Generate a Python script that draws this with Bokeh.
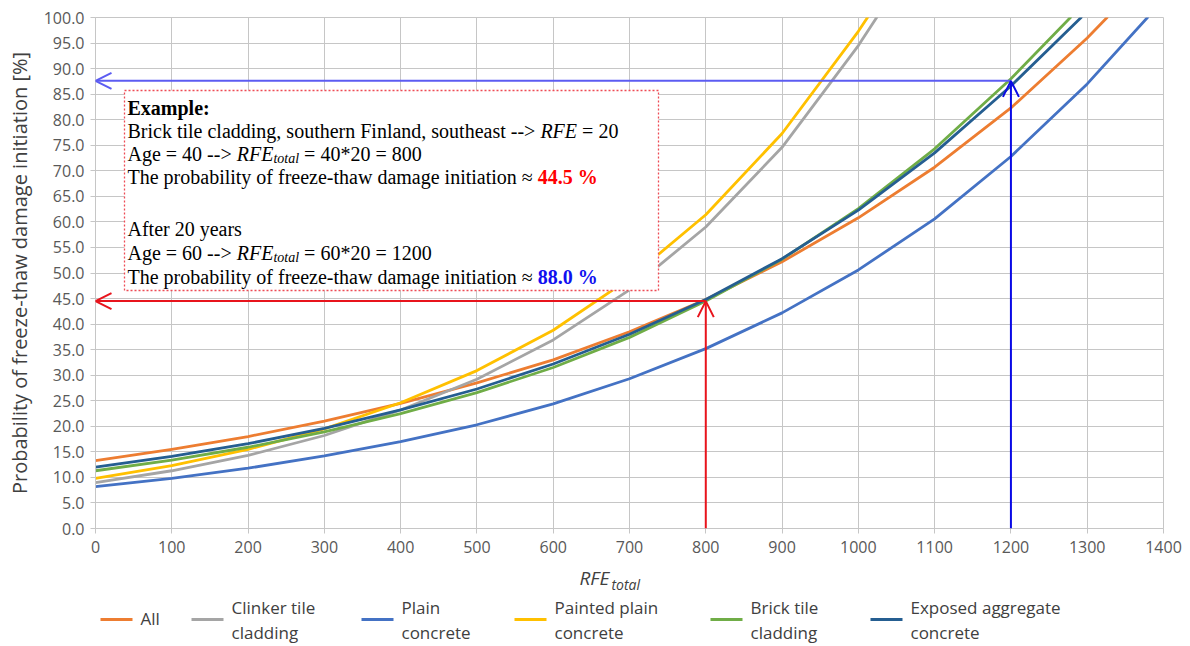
from bokeh.plotting import figure
from bokeh.models import (Range1d, Label, BoxAnnotation, Arrow, OpenHead,
                          NumeralTickFormatter, FixedTicker)
from bokeh.layouts import column
from bokeh.embed import file_html
from bokeh.resources import INLINE

# ---------------- data ----------------
all_x = [0, 100, 200, 300, 400, 500, 600, 700, 800, 900, 1000, 1100, 1200, 1300, 1326]
all_y = [13.3, 15.5, 18.0, 21.0, 24.5, 28.5, 33.0, 38.5, 44.8, 52.2, 60.8, 70.7, 82.3, 96.0, 100.0]

clinker_x = [0, 100, 200, 300, 400, 500, 600, 700, 800, 900, 1000, 1024]
clinker_y = [9.0, 11.3, 14.3, 18.2, 23.2, 29.2, 36.9, 46.7, 59.0, 74.6, 94.5, 100.0]

plain_x = [0, 100, 200, 300, 400, 500, 600, 700, 800, 900, 1000, 1100, 1200, 1300, 1379]
plain_y = [8.2, 9.8, 11.8, 14.2, 17.0, 20.3, 24.4, 29.3, 35.2, 42.2, 50.6, 60.6, 72.8, 87.0, 100.0]

painted_x = [0, 100, 200, 300, 400, 500, 600, 700, 800, 900, 1000, 1012]
painted_y = [9.8, 12.3, 15.5, 19.5, 24.6, 30.9, 38.8, 48.9, 61.4, 77.3, 97.3, 100.0]

brick_x = [0, 100, 200, 300, 400, 500, 600, 700, 800, 900, 1000, 1100, 1200, 1278]
brick_y = [11.3, 13.4, 15.9, 18.9, 22.5, 26.6, 31.5, 37.4, 44.5, 52.7, 62.6, 74.3, 88.0, 100.0]

exposed_x = [0, 100, 200, 300, 400, 500, 600, 700, 800, 900, 1000, 1100, 1200, 1292]
exposed_y = [12.0, 14.1, 16.6, 19.6, 23.2, 27.3, 32.2, 38.0, 44.8, 52.8, 62.3, 73.5, 86.6, 100.0]

series_names = ["All", "Clinker tile cladding", "Plain concrete",
                "Painted plain concrete", "Brick tile cladding", "Exposed aggregate concrete"]
legend_lines = [["All"], ["Clinker tile", "cladding"], ["Plain", "concrete"],
                ["Painted plain", "concrete"], ["Brick tile", "cladding"],
                ["Exposed aggregate", "concrete"]]
series_colors = ["#ED7D31", "#A5A5A5", "#4472C4", "#FFC000", "#70AD47", "#255E91"]
series_xy = [(all_x, all_y), (clinker_x, clinker_y), (plain_x, plain_y),
             (painted_x, painted_y), (brick_x, brick_y), (exposed_x, exposed_y)]

x_ticks = list(range(0, 1401, 100))
y_ticks = [i * 5 for i in range(21)]

# example values
rfe_example_1 = 800
prob_example_1 = 44.5
rfe_example_2 = 1200
prob_example_2 = 87.6

# ---------------- layout helpers (pixel positions on the page) ----------------
W = 1190
MAIN_H = 562
PX_LEFT, PX_RIGHT, PX_TOP, PX_BOTTOM = 95.0, 1163.0, 17.0, 528.0


def dx(px):
    return (px - PX_LEFT) / (PX_RIGHT - PX_LEFT) * 1400.0


def dy(py):
    return (PX_BOTTOM - py) / (PX_BOTTOM - PX_TOP) * 100.0


GRID = "#C6C6C6"
TICK_TXT = "#595959"
SANS = "Open Sans"
SERIF = "Liberation Serif"

p = figure(width=W, height=MAIN_H, x_range=Range1d(0, 1400), y_range=Range1d(0, 100),
           output_backend="svg", toolbar_location=None,
           min_border_left=int(PX_LEFT), min_border_right=int(W - PX_RIGHT),
           min_border_top=int(PX_TOP), min_border_bottom=int(MAIN_H - PX_BOTTOM))
p.background_fill_color = "white"
p.border_fill_color = "white"
p.outline_line_color = GRID

p.xaxis.ticker = FixedTicker(ticks=x_ticks)
p.yaxis.ticker = FixedTicker(ticks=y_ticks)
p.xgrid.ticker = FixedTicker(ticks=x_ticks)
p.ygrid.ticker = FixedTicker(ticks=y_ticks)
p.grid.grid_line_color = GRID
p.grid.grid_line_width = 1
p.yaxis.formatter = NumeralTickFormatter(format="0.0")

for ax in (p.xaxis[0], p.yaxis[0]):
    ax.axis_line_color = GRID
    ax.major_tick_line_color = GRID
    ax.minor_tick_line_color = None
    ax.major_tick_in = 0
    ax.major_tick_out = 5
    ax.major_label_text_font = SANS
    ax.major_label_text_font_size = "16px"
    ax.major_label_text_color = TICK_TXT

p.xaxis.major_label_standoff = 7
p.yaxis.major_label_standoff = 6
p.yaxis.axis_label = "Probability of freeze-thaw damage initiation [%]"
p.yaxis.axis_label_text_font = SANS
p.yaxis.axis_label_text_font_size = "20px"
p.yaxis.axis_label_text_font_style = "normal"
p.yaxis.axis_label_text_color = "#404040"
p.yaxis.axis_label_standoff = 8

for (xs, ys), c, name in zip(series_xy, series_colors, series_names):
    p.line(xs, ys, line_color=c, line_width=2.8, line_join="round", line_cap="round")

# ---------------- example text box ----------------
box = BoxAnnotation(left=dx(124), right=dx(658), top=dy(90), bottom=dy(290),
                    fill_color="white", fill_alpha=1.0,
                    line_color="#EE4B55", line_alpha=1.0, line_width=1.3, line_dash="2 2")
p.add_layout(box)


def txt(fig, s, px, py, size="20px", style="normal", color="black", font=SERIF):
    fig.add_layout(Label(x=dx(px), y=dy(py), text=s, text_font=font,
                         text_font_size=size, text_font_style=style,
                         text_color=color, text_baseline="middle", text_align="left"))


L0 = 127
txt(p, "Example:", L0, 107, style="bold")
txt(p, "Brick tile cladding, southern Finland, southeast -->", L0, 130)
txt(p, "RFE", 539.9, 130, style="italic")
txt(p, "= 20", 581.6, 130)

txt(p, "Age = 40 -->", L0, 153)
txt(p, "RFE", 236.2, 153, style="italic")
txt(p, "total", 272.9, 158, size="14px", style="italic")
txt(p, "= 40*20 = 800", 303.6, 153)
txt(p, "The probability of freeze-thaw damage initiation \u2248", L0, 176)
txt(p, "%.1f %%" % prob_example_1, 537.3, 176, style="bold", color="#FF0000")

txt(p, "After 20 years", L0, 228)
txt(p, "Age = 60 -->", L0, 252)
txt(p, "RFE", 236.2, 252, style="italic")
txt(p, "total", 272.9, 257, size="14px", style="italic")
txt(p, "= 60*20 = 1200", 303.6, 252)
txt(p, "The probability of freeze-thaw damage initiation \u2248", L0, 276)
txt(p, "88.0 %", 537.3, 276, style="bold", color="#1010F0")

# ---------------- arrows ----------------
RED = "#E8141C"
p.add_layout(Arrow(x_start=rfe_example_1, y_start=prob_example_1, x_end=0, y_end=prob_example_1,
                   line_color=RED, line_width=2,
                   end=OpenHead(size=16, line_color=RED, line_width=2)))
p.add_layout(Arrow(x_start=rfe_example_1, y_start=0, x_end=rfe_example_1, y_end=prob_example_1,
                   line_color=RED, line_width=2,
                   end=OpenHead(size=16, line_color=RED, line_width=2)))
LBLUE = "#5C5CF2"
DBLUE = "#0A0AE6"
p.add_layout(Arrow(x_start=rfe_example_2, y_start=prob_example_2, x_end=0, y_end=prob_example_2,
                   line_color=LBLUE, line_width=2,
                   end=OpenHead(size=16, line_color=LBLUE, line_width=2)))
p.add_layout(Arrow(x_start=rfe_example_2, y_start=0, x_end=rfe_example_2, y_end=prob_example_2,
                   line_color=DBLUE, line_width=2,
                   end=OpenHead(size=16, line_color=DBLUE, line_width=2)))

# ---------------- x title + legend (second canvas below, frame aligned with main) ----------------
LG_TOP = MAIN_H
LG_H = 83
lg = figure(width=W, height=LG_H, x_range=Range1d(PX_LEFT, PX_RIGHT), y_range=Range1d(0, LG_H),
            output_backend="svg", toolbar_location=None,
            x_axis_type=None, y_axis_type=None,
            min_border_left=int(PX_LEFT), min_border_right=int(W - PX_RIGHT),
            min_border_top=0, min_border_bottom=0)
lg.grid.visible = False
lg.outline_line_color = None
lg.background_fill_color = "white"
lg.border_fill_color = "white"


def lx(px):
    return px


def ly(py):
    return LG_TOP + LG_H - py


def ltxt(s, px, py, size="17px", style="normal", color="#404040"):
    lg.add_layout(Label(x=lx(px), y=ly(py), text=s, text_font=SANS, text_font_size=size,
                        text_font_style=style, text_color=color,
                        text_baseline="middle", text_align="left"))


ltxt("RFE", 579, 577, size="19px", style="italic")
ltxt("total", 611, 584, size="14px", style="italic")

legend_text_x = [140, 231, 401, 554, 750, 910]
for lines, c, tx in zip(legend_lines, series_colors, legend_text_x):
    lg.segment(x0=[lx(tx - 40)], y0=[ly(619)], x1=[lx(tx - 8)], y1=[ly(619)],
               line_color=c, line_width=3)
    if len(lines) == 1:
        ltxt(lines[0], tx, 618)
    else:
        ltxt(lines[0], tx, 607)
        ltxt(lines[1], tx, 632)

layout = column(p, lg, spacing=0)
open("out.html", "w").write(file_html(layout, INLINE))
